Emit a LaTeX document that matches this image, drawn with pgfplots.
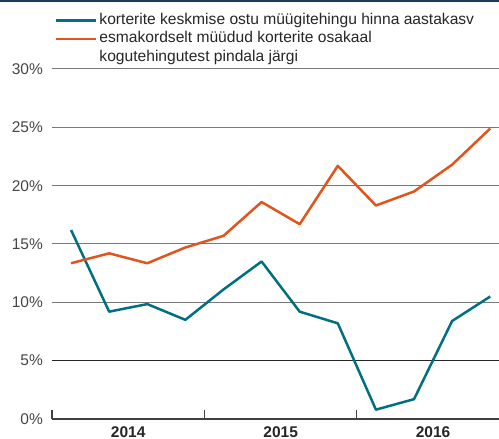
\documentclass[border=0pt]{standalone}
\usepackage{fontspec}
\setmainfont{Liberation Sans}
\usepackage{pgfplots}
\pgfplotsset{compat=1.18}
\definecolor{teal1}{RGB}{0,112,128}
\definecolor{orng}{RGB}{225,85,28}
\definecolor{gridc}{RGB}{120,120,120}
\definecolor{labc}{RGB}{70,70,70}
\definecolor{topbar}{RGB}{25,60,90}
\begin{document}
\begin{tikzpicture}
\useasboundingbox (-52bp,-20bp) rectangle (447bp,419bp);
\fill[topbar] (-52bp,417bp) rectangle (447bp,419bp);
\begin{axis}[
  scale only axis, width=447bp, height=350bp,
  xmin=0, xmax=11.73, ymin=0, ymax=30,
  axis x line*=bottom, axis y line*=left,
  y axis line style={draw=none},
  x axis line style={draw=black!75, line width=1.2bp, -},
  ytick={0,10,15,20,25,30},
  extra y ticks={5},
  extra y tick style={grid style={black!85,line width=1bp}},
  yticklabel={\pgfmathprintnumber{\tick}\%},
  ymajorgrids, grid style={gridc, line width=1bp},
  major y tick style={draw=none},
  major tick length=0pt,
  xtick={2,6,10}, xticklabels={2014,2015,2016},
  major x tick style={draw=none},
  extra x ticks={0,4,8}, extra x tick labels={},
  extra x tick style={major tick length=9bp, tick align=inside, xmajorgrids=false, major x tick style={draw=black!75, line width=1.2bp}},
  /pgf/number format/assume math mode=true,
  yticklabel style={font=\fontsize{15.5bp}{18bp}\selectfont, text=labc, anchor=east, xshift=-9bp, inner sep=0pt},
  xticklabel style={font=\fontsize{15.5bp}{18bp}\selectfont\bfseries, text=black!85, anchor=north, yshift=-7bp, inner sep=0pt},
  legend style={at={(rel axis cs:0,1)}, anchor=south west, xshift=3bp, yshift=4bp,
    draw=none, fill=none, inner sep=0pt, outer sep=0pt, row sep=3.5bp,
    font=\fontsize{15.6bp}{18.5bp}\selectfont, text=black!85,
    nodes={inner sep=0pt, text height=11.5bp, text depth=3.5bp},
    /tikz/every odd column/.style={column sep=2bp}},
  legend cell align=left,
  legend image code/.code={\draw[#1, line width=2.5bp] (0bp,0bp) -- (40bp,0bp);},
]
\addplot[teal1, line width=2.5bp, line join=round] coordinates {
 (0.5,16.2) (1.5,9.2) (2.5,9.85) (3.5,8.5) (4.5,11.1) (5.5,13.5)
 (6.5,9.2) (7.5,8.2) (8.5,0.8) (9.5,1.7) (10.5,8.4) (11.5,10.5)};
\addlegendentry{korterite keskmise ostu müügitehingu hinna aastakasv}
\addplot[orng, line width=2.5bp, line join=round] coordinates {
 (0.5,13.35) (1.5,14.2) (2.5,13.35) (3.5,14.7) (4.5,15.7) (5.5,18.6)
 (6.5,16.7) (7.5,21.7) (8.5,18.3) (9.5,19.5) (10.5,21.8) (11.5,24.9)};
\addlegendentry{esmakordselt müüdud korterite osakaal}
\addlegendimage{empty legend}
\addlegendentry{kogutehingutest pindala järgi}
\end{axis}
\end{tikzpicture}
\end{document}
